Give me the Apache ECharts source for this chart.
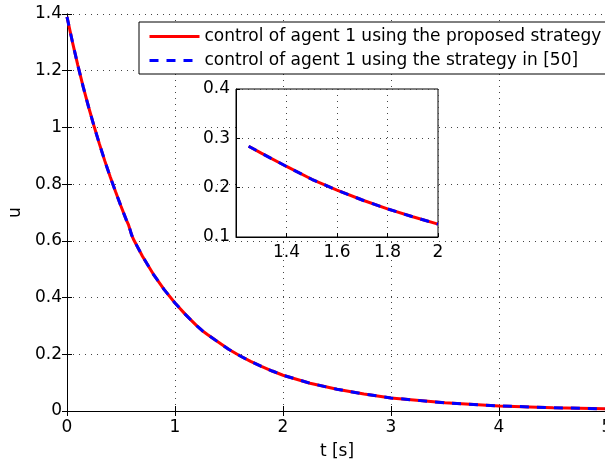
<!DOCTYPE html>
<html><head><meta charset="utf-8">
<script src="https://cdn.jsdelivr.net/npm/echarts@6/dist/echarts.min.js"></script>
<style>html,body{margin:0;padding:0;background:#fff}#c{width:605px;height:464px}</style>
</head><body><div id="c"></div>
<script>
// time samples [s]
const tValues = [0, 0.05, 0.1, 0.15, 0.2, 0.25, 0.3, 0.35, 0.4, 0.45, 0.5, 0.55, 0.57, 0.585, 0.6, 0.62,
  0.7, 0.8, 0.9, 1.0, 1.1, 1.2, 1.25, 1.3, 1.4, 1.5, 1.6, 1.7, 1.8, 1.9, 2.0,
  2.25, 2.5, 2.75, 3.0, 3.5, 4.0, 4.5, 5.0];
// control of agent 1 using the proposed strategy
const uProposed = [1.39, 1.302, 1.22, 1.143, 1.072, 1.005, 0.942, 0.882, 0.826, 0.773, 0.722, 0.673, 0.656, 0.638, 0.619, 0.602,
  0.545, 0.482, 0.428, 0.381, 0.339, 0.301, 0.284, 0.270, 0.243, 0.217, 0.195, 0.175, 0.157, 0.141, 0.126,
  0.098, 0.0765, 0.060, 0.046, 0.029, 0.018, 0.0115, 0.0075];
// control of agent 1 using the strategy in [50]
const uRef50 = [1.39, 1.302, 1.22, 1.143, 1.072, 1.005, 0.942, 0.882, 0.826, 0.773, 0.722, 0.673, 0.656, 0.638, 0.619, 0.602,
  0.545, 0.482, 0.428, 0.381, 0.339, 0.301, 0.284, 0.270, 0.243, 0.217, 0.195, 0.175, 0.157, 0.141, 0.126,
  0.098, 0.0765, 0.060, 0.046, 0.029, 0.018, 0.0115, 0.0075];
const seriesNames = ['control of agent 1 using the proposed strategy', 'control of agent 1 using the strategy in [50]'];
const xTicks = [0, 1, 2, 3, 4, 5];
const yTicks = [0, 0.2, 0.4, 0.6, 0.8, 1, 1.2, 1.4];
const insetXMin = 1.2;
const insetXTicks = [1.4, 1.6, 1.8, 2];
const insetYTicks = [0.1, 0.2, 0.3, 0.4];
const insetTRange = [1.25, 2];
const xName = 't [s]';
const yName = 'u';

const FONT = 'DejaVu Sans';
const FS = 17;
const pairs = (arr) => tValues.map((t, i) => [t, arr[i]]);
const insetPairs = (arr) => pairs(arr).filter(p => p[0] >= insetTRange[0] - 1e-9 && p[0] <= insetTRange[1] + 1e-9);
const step = a => +(a[1] - a[0]).toFixed(6);

const grid = { type: [1, 5], color: '#444', width: 1 };
const black = { color: '#000', width: 1 };
const lab = (m, extra) => Object.assign({ color: '#000', fontFamily: FONT, fontSize: FS, margin: m }, extra || {});
const tick = (len) => ({ show: true, inside: true, length: len, lineStyle: black });

const chart = echarts.init(document.getElementById('c'), null, { renderer: 'canvas' });
chart.setOption({
  animation: false,
  backgroundColor: '#fff',
  grid: [
    { left: 67, top: 14, right: -2, bottom: 53, show: false, containLabel: false, outerBoundsMode: 'none' },
    { left: 236, top: 89, width: 202, height: 148, show: true, backgroundColor: '#fff', borderColor: '#000', borderWidth: 1, z: 10,
      containLabel: false, outerBoundsMode: 'none' }
  ],
  legend: {
    data: seriesNames, orient: 'vertical', left: 139, top: 22,
    itemWidth: 50, itemHeight: 14, itemGap: 7, padding: [6, 7, 5, 9],
    borderColor: '#000', borderWidth: 1, backgroundColor: '#fff', borderRadius: 0,
    itemStyle: { color: 'rgba(0,0,0,0)', borderWidth: 0, borderColor: 'rgba(0,0,0,0)' },
    lineStyle: { width: 3 },
    textStyle: { color: '#000', fontFamily: FONT, fontSize: FS },
    z: 20
  },
  xAxis: [
    { type: 'value', gridIndex: 0, min: xTicks[0], max: xTicks[xTicks.length - 1], interval: step(xTicks),
      name: xName, nameLocation: 'middle', nameGap: 32, nameTextStyle: { color: '#000', fontFamily: FONT, fontSize: FS },
      axisLine: { show: true, lineStyle: black }, axisTick: tick(5), axisLabel: lab(8),
      splitLine: { show: true, lineStyle: grid } },
    { type: 'value', gridIndex: 0, position: 'top', min: xTicks[0], max: xTicks[xTicks.length - 1], interval: step(xTicks),
      axisLine: { show: true, lineStyle: black }, axisTick: tick(5), axisLabel: { show: false }, splitLine: { show: false } },
    { type: 'value', gridIndex: 1, min: insetXMin, max: insetXTicks[insetXTicks.length - 1], interval: step(insetXTicks),
      axisLine: { show: true, lineStyle: black }, axisTick: tick(4), axisLabel: lab(7, { showMinLabel: false }),
      splitLine: { show: true, lineStyle: grid }, z: 11 }
  ],
  yAxis: [
    { type: 'value', gridIndex: 0, min: yTicks[0], max: yTicks[yTicks.length - 1], interval: step(yTicks),
      name: yName, nameLocation: 'middle', nameGap: 37, nameRotate: 90, nameTextStyle: { color: '#000', fontFamily: FONT, fontSize: FS },
      axisLine: { show: true, lineStyle: black }, axisTick: tick(5), axisLabel: lab(5),
      splitLine: { show: true, lineStyle: grid } },
    { type: 'value', gridIndex: 0, position: 'right', min: yTicks[0], max: yTicks[yTicks.length - 1], interval: step(yTicks),
      axisLine: { show: true, lineStyle: black }, axisTick: tick(5), axisLabel: { show: false }, splitLine: { show: false } },
    { type: 'value', gridIndex: 1, min: insetYTicks[0], max: insetYTicks[insetYTicks.length - 1], interval: step(insetYTicks),
      axisLine: { show: true, lineStyle: black }, axisTick: tick(4), axisLabel: lab(6),
      splitLine: { show: true, lineStyle: grid }, z: 11 }
  ],
  series: [
    { name: seriesNames[0], type: 'line', xAxisIndex: 0, yAxisIndex: 0, data: pairs(uProposed), symbol: 'none', showSymbol: false,
      lineStyle: { color: '#ff0000', width: 3, type: 'solid' }, itemStyle: { color: '#ff0000' }, z: 3 },
    { name: seriesNames[1], type: 'line', xAxisIndex: 0, yAxisIndex: 0, data: pairs(uRef50), symbol: 'none', showSymbol: false,
      lineStyle: { color: '#0000ff', width: 3, type: [9, 8] }, itemStyle: { color: '#0000ff' }, z: 4 },
    { name: seriesNames[0], type: 'line', xAxisIndex: 2, yAxisIndex: 2, data: insetPairs(uProposed), symbol: 'none', showSymbol: false,
      lineStyle: { color: '#ff0000', width: 3, type: 'solid' }, itemStyle: { color: '#ff0000' }, z: 12 },
    { name: seriesNames[1], type: 'line', xAxisIndex: 2, yAxisIndex: 2, data: insetPairs(uRef50), symbol: 'none', showSymbol: false,
      lineStyle: { color: '#0000ff', width: 3, type: [9, 8] }, itemStyle: { color: '#0000ff' }, z: 13 }
  ]
});
</script>
</body></html>
